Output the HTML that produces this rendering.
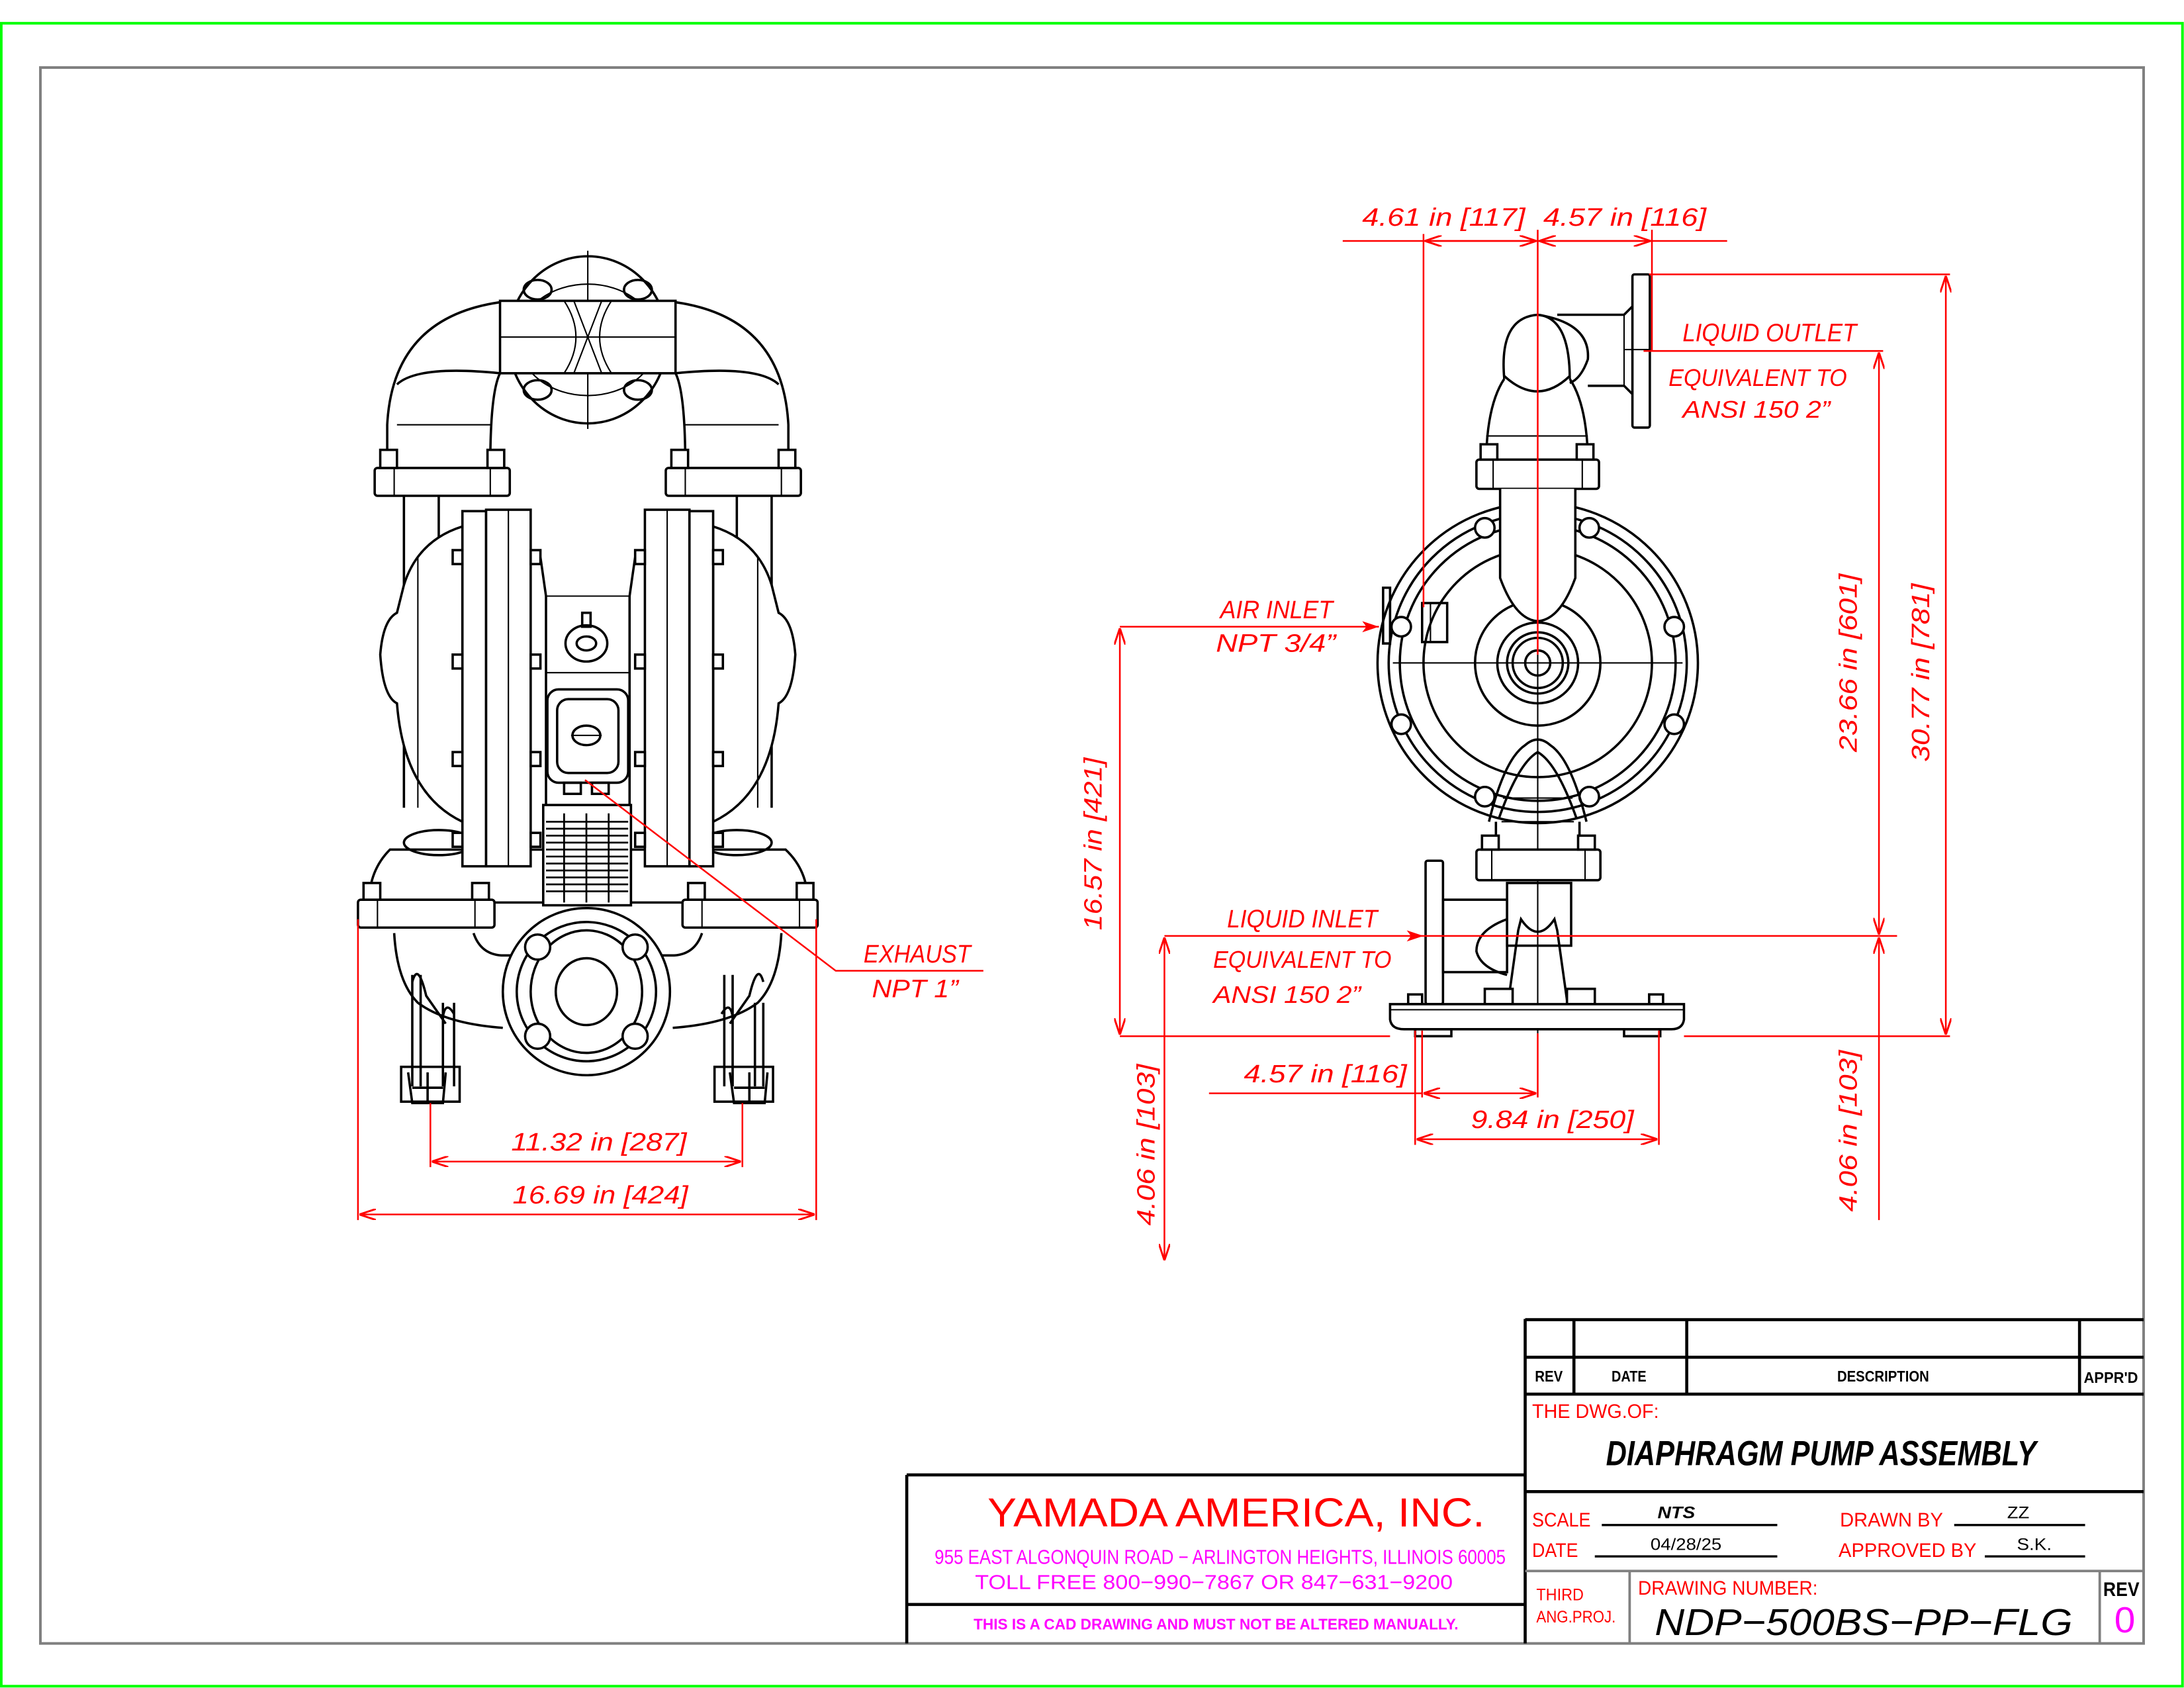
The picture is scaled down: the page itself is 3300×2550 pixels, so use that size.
<!DOCTYPE html>
<html><head><meta charset="utf-8"><style>
html,body{margin:0;padding:0;background:#fff}
svg{display:block}
text{font-family:"Liberation Sans",sans-serif}
.r{fill:#ff0000}
.m{fill:#ff00ff}
.b{stroke:#000;fill:none;stroke-width:1.7}
.bw{stroke:#000;fill:#fff;stroke-width:1.7}
.t{stroke:#000;fill:none;stroke-width:1.0}
.rd{stroke:#ff0000;fill:none;stroke-width:1.2}
.dim{font-style:italic;font-size:18px;fill:#ff0000}
</style></head><body>
<svg width="3300" height="2550" viewBox="0 0 1568 1212" preserveAspectRatio="none" xmlns="http://www.w3.org/2000/svg">
<defs>
<marker id="a" viewBox="0 0 12 8" refX="12" refY="4" markerWidth="12" markerHeight="8" markerUnits="userSpaceOnUse" orient="auto-start-reverse">
<path d="M0,0 L12,4 L0,8" fill="none" stroke="#f00" stroke-width="1.4"/>
</marker>
<marker id="af" viewBox="0 0 12 8" refX="12" refY="4" markerWidth="12" markerHeight="8" markerUnits="userSpaceOnUse" orient="auto-start-reverse">
<path d="M0,0 L12,4 L0,8 L3,4 z" fill="#f00"/>
</marker>
</defs>
<rect x="0" y="0" width="1568" height="1212" fill="#fff"/>
<rect x="0.9" y="16.7" width="1566" height="1194" fill="none" stroke="#00ff00" stroke-width="1.9"/>
<rect x="29" y="48.5" width="1510" height="1131.5" fill="none" stroke="#808080" stroke-width="1.9"/>

<!-- ===== LEFT VIEW (front) ===== -->
<g>
<ellipse cx="422" cy="244" rx="57" ry="60" class="b" stroke-width="2.4"/>
<ellipse cx="422" cy="244" rx="50" ry="40" class="t"/>
<line x1="422" y1="180" x2="422" y2="308" class="t"/>
<rect x="359" y="216" width="126" height="52" class="bw"/>
<line x1="359" y1="242" x2="485" y2="242" class="t"/>
<path d="M405,216 Q422,242 405,268 M439,216 Q422,242 439,268 M412,216 L432,268 M432,216 L412,268" class="t"/>
<g class="b"><ellipse cx="386" cy="208" rx="10" ry="7"/><ellipse cx="458" cy="208" rx="10" ry="7"/><ellipse cx="386" cy="280" rx="10" ry="7"/><ellipse cx="458" cy="280" rx="10" ry="7"/></g>
<path d="M278,334 L278,305 Q282,228 359,217" class="b"/>
<path d="M352,334 Q352,282 359,268 M285,276 Q300,262 359,268" class="b"/>
<line x1="285" y1="305" x2="352" y2="305" class="t"/>
<path d="M566,334 L566,305 Q562,228 485,217" class="b"/>
<path d="M492,334 Q492,282 485,268 M559,276 Q544,262 485,268" class="b"/>
<line x1="492" y1="305" x2="559" y2="305" class="t"/>
<rect x="269" y="336" width="97" height="20" rx="2" class="bw" stroke-width="2.4"/>
<rect x="478" y="336" width="97" height="20" rx="2" class="bw" stroke-width="2.4"/>
<g class="bw"><rect x="273" y="323" width="12" height="13"/><rect x="350" y="323" width="12" height="13"/><rect x="482" y="323" width="12" height="13"/><rect x="559" y="323" width="12" height="13"/></g>
<line x1="283" y1="336" x2="283" y2="356" class="t"/><line x1="352" y1="336" x2="352" y2="356" class="t"/>
<line x1="492" y1="336" x2="492" y2="356" class="t"/><line x1="561" y1="336" x2="561" y2="356" class="t"/>
<path d="M290,356 L290,580 M315,356 L315,400 M529,356 L529,400 M554,356 L554,580" class="b"/>
<path d="M332,378 Q300,388 290,420 L285,440 Q275,445 273,470 Q275,500 285,505 Q290,570 332,590 Z" class="bw"/>
<path d="M512,378 Q544,388 554,420 L559,440 Q569,445 571,470 Q569,500 559,505 Q554,570 512,590 Z" class="bw"/>
<line x1="300" y1="400" x2="300" y2="580" class="t"/><line x1="544" y1="400" x2="544" y2="580" class="t"/>
<path d="M280,610 Q265,625 265,648 L580,648 Q580,625 564,610 Z" class="bw"/>
<ellipse cx="315" cy="605" rx="25" ry="9" class="b"/><ellipse cx="529" cy="605" rx="25" ry="9" class="b"/>
<rect x="332" y="367" width="17" height="255" class="bw" stroke-width="2.2"/>
<rect x="349" y="366" width="32" height="256" class="bw" stroke-width="2.2"/>
<rect x="463" y="366" width="32" height="256" class="bw" stroke-width="2.2"/>
<rect x="495" y="367" width="17" height="255" class="bw" stroke-width="2.2"/>
<line x1="365" y1="366" x2="365" y2="622" class="t"/><line x1="479" y1="366" x2="479" y2="622" class="t"/>
<g class="bw"><rect x="325" y="395" width="7" height="10"/><rect x="325" y="470" width="7" height="10"/><rect x="325" y="540" width="7" height="10"/><rect x="325" y="598" width="7" height="10"/>
<rect x="512" y="395" width="7" height="10"/><rect x="512" y="470" width="7" height="10"/><rect x="512" y="540" width="7" height="10"/><rect x="512" y="598" width="7" height="10"/>
<rect x="381" y="395" width="7" height="10"/><rect x="381" y="470" width="7" height="10"/><rect x="381" y="540" width="7" height="10"/><rect x="381" y="598" width="7" height="10"/>
<rect x="456" y="395" width="7" height="10"/><rect x="456" y="470" width="7" height="10"/><rect x="456" y="540" width="7" height="10"/><rect x="456" y="598" width="7" height="10"/></g>
<path d="M388,400 L392,428 L392,630 M456,400 L452,428 L452,630" class="b"/>
<line x1="392" y1="428" x2="452" y2="428" class="t"/><line x1="392" y1="483" x2="452" y2="483" class="t"/>
<ellipse cx="421" cy="462" rx="15" ry="13" class="b" stroke-width="2.2"/><ellipse cx="421" cy="462" rx="7" ry="5" class="b"/>
<rect x="418" y="440" width="6" height="10" class="b"/>
<rect x="393" y="495" width="58" height="67" rx="8" class="b" stroke-width="2.2"/>
<rect x="400" y="502" width="44" height="53" rx="8" class="b"/>
<ellipse cx="421" cy="528" rx="10" ry="7" class="b" stroke-width="1.8"/>
<line x1="410" y1="528" x2="432" y2="528" class="t"/>
<rect x="405" y="562" width="12" height="8" class="b"/><rect x="425" y="562" width="12" height="8" class="b"/>
<rect x="390" y="578" width="63" height="72" class="bw" stroke-width="2.2"/>
<g stroke="#000" stroke-width="1.3">
<line x1="392" y1="590" x2="451" y2="590"/><line x1="392" y1="595" x2="451" y2="595"/><line x1="392" y1="600" x2="451" y2="600"/><line x1="392" y1="605" x2="451" y2="605"/><line x1="392" y1="610" x2="451" y2="610"/><line x1="392" y1="615" x2="451" y2="615"/><line x1="392" y1="620" x2="451" y2="620"/><line x1="392" y1="625" x2="451" y2="625"/><line x1="392" y1="630" x2="451" y2="630"/><line x1="392" y1="635" x2="451" y2="635"/><line x1="392" y1="640" x2="451" y2="640"/>
<line x1="405" y1="584" x2="405" y2="648"/><line x1="421" y1="584" x2="421" y2="648"/><line x1="437" y1="584" x2="437" y2="648"/></g>
<rect x="257" y="646" width="98" height="20" rx="2" class="bw" stroke-width="2.4"/>
<rect x="490" y="646" width="97" height="20" rx="2" class="bw" stroke-width="2.4"/>
<g class="bw"><rect x="261" y="634" width="12" height="12"/><rect x="339" y="634" width="12" height="12"/><rect x="494" y="634" width="12" height="12"/><rect x="572" y="634" width="12" height="12"/></g>
<line x1="271" y1="646" x2="271" y2="666" class="t"/><line x1="341" y1="646" x2="341" y2="666" class="t"/>
<line x1="504" y1="646" x2="504" y2="666" class="t"/><line x1="574" y1="646" x2="574" y2="666" class="t"/>
<path d="M283,670 Q285,705 300,720 Q320,735 361,738 M561,670 Q559,705 544,720 Q524,735 483,738" class="b"/>
<path d="M340,670 Q345,685 360,686 L484,686 Q499,685 504,670" class="b"/>
<ellipse cx="421" cy="712" rx="60" ry="60" class="bw" stroke-width="3"/>
<ellipse cx="421" cy="712" rx="50" ry="50" class="b" stroke-width="3.5"/>
<ellipse cx="421" cy="712" rx="40" ry="44" class="b" stroke-width="1.8"/>
<ellipse cx="421" cy="712" rx="22" ry="24" class="b" stroke-width="2"/>
<g class="bw" stroke-width="2"><ellipse cx="386" cy="680" rx="9" ry="9"/><ellipse cx="456" cy="680" rx="9" ry="9"/><ellipse cx="386" cy="744" rx="9" ry="9"/><ellipse cx="456" cy="744" rx="9" ry="9"/></g>
<g class="b">
<path d="M296,700 L296,780 M302,700 L302,780 M318,720 L318,780 M326,720 L326,780"/>
<path d="M296,705 Q300,690 306,715 L320,735 M318,730 Q320,718 326,728"/>
<rect x="288" y="766" width="42" height="25"/>
<path d="M293,770 L296,792 L318,792 L320,770 M307,770 L307,792 M296,781 L318,781"/>
<path d="M520,700 L520,780 M526,700 L526,780 M542,720 L542,780 M548,720 L548,780"/>
<path d="M548,705 Q544,690 538,715 L524,735 M526,730 Q524,718 518,728"/>
<rect x="513" y="766" width="42" height="25"/>
<path d="M524,770 L527,792 L549,792 L551,770 M538,770 L538,792 M527,781 L549,781"/>
</g>
</g>

<g class="rd">
<line x1="257" y1="660" x2="257" y2="876"/>
<line x1="586" y1="660" x2="586" y2="876"/>
<line x1="309" y1="792" x2="309" y2="838"/>
<line x1="533" y1="792" x2="533" y2="838"/>
<line x1="310" y1="834" x2="532" y2="834" marker-start="url(#a)" marker-end="url(#a)"/>
<line x1="258" y1="872" x2="585" y2="872" marker-start="url(#a)" marker-end="url(#a)"/>
<path d="M420,560 L600,697 L706,697"/>
</g>
<text class="dim" x="367" y="826" textLength="126" lengthAdjust="spacingAndGlyphs">11.32 in [287]</text>
<text class="dim" x="368" y="864" textLength="126" lengthAdjust="spacingAndGlyphs">16.69 in [424]</text>
<text class="dim" x="620" y="691" textLength="77" lengthAdjust="spacingAndGlyphs">EXHAUST</text>
<text class="dim" x="626" y="716" textLength="62" lengthAdjust="spacingAndGlyphs">NPT 1”</text>

<!-- ===== RIGHT VIEW ===== -->
<g>
<rect x="1172" y="197" width="12.5" height="110" rx="1.5" class="bw" stroke-width="2.4"/>
<path d="M1118,226 L1166,226 L1172,220 M1140,277 L1166,277 L1172,283" class="b"/>
<line x1="1166" y1="226" x2="1166" y2="277" class="t"/><line x1="1166" y1="251" x2="1184" y2="251" class="t"/>
<path d="M1080,272 Q1076,228 1104,226 Q1127,228 1127,272" class="b" stroke-width="2.2"/>
<path d="M1104,226 Q1142,232 1140,258 Q1135,272 1127,275" class="b"/>
<path d="M1080,270 Q1104,292 1127,270" class="b" stroke-width="2.2"/>
<path d="M1080,272 Q1068,290 1067,328 M1127,272 Q1139,290 1140,328" class="b"/>
<line x1="1067" y1="313" x2="1140" y2="313" class="t"/>
<rect x="1060" y="330" width="88" height="21" rx="2" class="bw" stroke-width="2.4"/>
<g class="bw"><rect x="1063" y="319" width="12" height="11"/><rect x="1132" y="319" width="12" height="11"/></g>
<line x1="1072" y1="330" x2="1072" y2="351" class="t"/><line x1="1136" y1="330" x2="1136" y2="351" class="t"/>
<circle cx="1104" cy="476" r="115" class="bw" stroke-width="3.5"/>
<circle cx="1104" cy="476" r="107" class="b" stroke-width="4"/>
<circle cx="1104" cy="476" r="99" class="b" stroke-width="2"/>
<circle cx="1104" cy="476" r="82" class="b" stroke-width="1.5"/>
<circle cx="1104" cy="476" r="45" class="b" stroke-width="1.5"/>
<circle cx="1104" cy="476" r="29" class="b" stroke-width="1.5"/>
<circle cx="1104" cy="476" r="22" class="b" stroke-width="1.5"/>
<circle cx="1104" cy="476" r="18" class="b" stroke-width="1.5"/>
<circle cx="1104" cy="476" r="9" class="b" stroke-width="1.5"/>
<line x1="1000" y1="476" x2="1208" y2="476" class="t"/>
<line x1="1104" y1="470" x2="1104" y2="742" class="t"/>
<g class="bw" stroke-width="2.2">
<circle cx="1066" cy="379" r="7"/><circle cx="1141" cy="379" r="7"/>
<circle cx="1006" cy="450" r="7"/><circle cx="1202" cy="450" r="7"/>
<circle cx="1006" cy="520" r="7"/><circle cx="1202" cy="520" r="7"/>
<circle cx="1066" cy="572" r="7"/><circle cx="1141" cy="572" r="7"/></g>
<path d="M1077,351 L1077,415 Q1088,445 1104,446 Q1120,445 1131,415 L1131,351" class="bw" stroke-width="1.9"/>
<path d="M1069,590 Q1080,545 1095,535 Q1104,527 1113,535 Q1128,545 1139,590" class="b" stroke-width="2.6"/>
<path d="M1076,588 Q1090,548 1104,540 Q1118,548 1132,588" class="b"/>
<line x1="1079" y1="573" x2="1129" y2="573" class="t"/><line x1="1078" y1="590" x2="1130" y2="590" class="t"/>
<path d="M1074,590 L1074,605 M1134,590 L1134,605" class="b"/>
<rect x="1021" y="433" width="18" height="28" class="b"/>
<line x1="1027" y1="433" x2="1027" y2="461" class="t"/>
<path d="M993,422 L998,422 L998,462 L993,462 Z" class="b"/>
<rect x="1060" y="610" width="89" height="22" rx="2" class="bw" stroke-width="2.4"/>
<g class="bw"><rect x="1064" y="600" width="12" height="10"/><rect x="1133" y="600" width="12" height="10"/></g>
<line x1="1071" y1="610" x2="1071" y2="632" class="t"/><line x1="1138" y1="610" x2="1138" y2="632" class="t"/>
<rect x="1023.5" y="618" width="12.5" height="103" rx="1.5" class="bw" stroke-width="2.4"/>
<rect x="1036" y="646" width="46" height="52" class="b"/>
<path d="M1082,660 Q1060,668 1060,683 Q1063,695 1082,700" class="b"/>
<rect x="1082" y="634" width="46" height="45" class="b"/>
<path d="M1083,718 L1090,668 L1092,660 Q1104,678 1116,660 L1118,668 L1125,718" class="b" stroke-width="2.8"/>
<g class="bw"><rect x="1066" y="710" width="20" height="11"/><rect x="1125" y="710" width="20" height="11"/><rect x="1011" y="714" width="10" height="7"/><rect x="1184" y="714" width="10" height="7"/></g>
<path d="M998,721 L1209,721 L1209,732 Q1208,739 1200,739 L1008,739 Q999,739 998,732 Z" class="bw" stroke-width="2.2"/>
<line x1="998" y1="725" x2="1209" y2="725" class="t"/>
<rect x="1016" y="739" width="26" height="5" class="b"/><rect x="1166" y="739" width="26" height="5" class="b"/>
</g>

<g class="rd">
<line x1="964" y1="173" x2="1240" y2="173"/>
<line x1="1023" y1="173" x2="1103" y2="173" marker-start="url(#a)" marker-end="url(#a)"/>
<line x1="1105" y1="173" x2="1185" y2="173" marker-start="url(#a)" marker-end="url(#a)"/>
<line x1="1022" y1="168" x2="1022" y2="436"/>
<line x1="1104" y1="165" x2="1104" y2="470"/>
<line x1="1186" y1="165" x2="1186" y2="252"/>
<line x1="1184" y1="197" x2="1400" y2="197"/>
<line x1="1397" y1="198" x2="1397" y2="743" marker-start="url(#a)" marker-end="url(#a)"/>
<line x1="1180" y1="252" x2="1352" y2="252"/>
<line x1="1349" y1="253" x2="1349" y2="671" marker-start="url(#a)" marker-end="url(#a)"/>
<line x1="804" y1="450" x2="990" y2="450" marker-end="url(#af)"/>
<line x1="804" y1="451" x2="804" y2="743" marker-start="url(#a)" marker-end="url(#a)"/>
<line x1="836" y1="672" x2="1022" y2="672" marker-end="url(#af)"/>
<line x1="1022" y1="672" x2="1362" y2="672"/>
<line x1="836" y1="673" x2="836" y2="905" marker-start="url(#a)" marker-end="url(#a)"/>
<line x1="1349" y1="673" x2="1349" y2="744" marker-start="url(#a)"/>
<line x1="1349" y1="744" x2="1349" y2="876"/>
<line x1="804" y1="744" x2="998" y2="744"/>
<line x1="1209" y1="744" x2="1400" y2="744"/>
<line x1="1016" y1="740" x2="1016" y2="822"/>
<line x1="1021" y1="740" x2="1021" y2="788"/>
<line x1="1104" y1="742" x2="1104" y2="788"/>
<line x1="1191" y1="740" x2="1191" y2="822"/>
<line x1="868" y1="785" x2="1021" y2="785"/>
<line x1="1022" y1="785" x2="1103" y2="785" marker-start="url(#a)" marker-end="url(#a)"/>
<line x1="1017" y1="818" x2="1190" y2="818" marker-start="url(#a)" marker-end="url(#a)"/>
</g>
<text class="dim" x="978" y="162" textLength="117" lengthAdjust="spacingAndGlyphs">4.61 in [117]</text>
<text class="dim" x="1108" y="162" textLength="117" lengthAdjust="spacingAndGlyphs">4.57 in [116]</text>
<text class="dim" x="893" y="777" textLength="117" lengthAdjust="spacingAndGlyphs">4.57 in [116]</text>
<text class="dim" x="1056" y="810" textLength="117" lengthAdjust="spacingAndGlyphs">9.84 in [250]</text>
<text class="dim" x="1208" y="245" textLength="125" lengthAdjust="spacingAndGlyphs">LIQUID OUTLET</text>
<text class="dim" x="1198" y="277" textLength="128" lengthAdjust="spacingAndGlyphs" style="font-size:17px">EQUIVALENT TO</text>
<text class="dim" x="1208" y="300" textLength="106" lengthAdjust="spacingAndGlyphs" style="font-size:17px">ANSI 150 2”</text>
<text class="dim" x="876" y="444" textLength="81" lengthAdjust="spacingAndGlyphs">AIR INLET</text>
<text class="dim" x="873" y="468" textLength="86" lengthAdjust="spacingAndGlyphs">NPT 3/4”</text>
<text class="dim" x="881" y="666" textLength="108" lengthAdjust="spacingAndGlyphs">LIQUID INLET</text>
<text class="dim" x="871" y="695" textLength="128" lengthAdjust="spacingAndGlyphs" style="font-size:17px">EQUIVALENT TO</text>
<text class="dim" x="871" y="720" textLength="106" lengthAdjust="spacingAndGlyphs" style="font-size:17px">ANSI 150 2”</text>
<text class="dim" transform="translate(791,606) rotate(-90)" text-anchor="middle" textLength="124" lengthAdjust="spacingAndGlyphs">16.57 in [421]</text>
<text class="dim" transform="translate(829,822) rotate(-90)" text-anchor="middle" textLength="116" lengthAdjust="spacingAndGlyphs">4.06 in [103]</text>
<text class="dim" transform="translate(1333,812) rotate(-90)" text-anchor="middle" textLength="116" lengthAdjust="spacingAndGlyphs">4.06 in [103]</text>
<text class="dim" transform="translate(1333,476) rotate(-90)" text-anchor="middle" textLength="128" lengthAdjust="spacingAndGlyphs">23.66 in [601]</text>
<text class="dim" transform="translate(1385,483) rotate(-90)" text-anchor="middle" textLength="128" lengthAdjust="spacingAndGlyphs">30.77 in [781]</text>

<!-- ===== TITLE BLOCK ===== -->
<g stroke="#000" stroke-width="2.2" fill="none">
<line x1="1095" y1="947.5" x2="1539" y2="947.5"/>
<line x1="1095" y1="974.5" x2="1539" y2="974.5"/>
<line x1="1095" y1="1001" x2="1539" y2="1001"/>
<line x1="1095" y1="1071" x2="1539" y2="1071"/>
<line x1="1095" y1="947" x2="1095" y2="1180"/>
<line x1="1130" y1="947" x2="1130" y2="1001"/>
<line x1="1211" y1="947" x2="1211" y2="1001"/>
<line x1="1493" y1="947" x2="1493" y2="1001"/>
<line x1="651" y1="1059" x2="1095" y2="1059"/>
<line x1="651" y1="1059" x2="651" y2="1180"/>
<line x1="651" y1="1152" x2="1095" y2="1152"/>
</g>
<g stroke="#808080" stroke-width="1.8">
<line x1="1095" y1="1128" x2="1539" y2="1128"/>
<line x1="1170" y1="1128" x2="1170" y2="1180"/>
<line x1="1507.5" y1="1128" x2="1507.5" y2="1180"/>
</g>
<g stroke="#000" stroke-width="1.6">
<line x1="1150" y1="1095" x2="1276" y2="1095"/>
<line x1="1145" y1="1117.5" x2="1276" y2="1117.5"/>
<line x1="1403" y1="1095" x2="1497" y2="1095"/>
<line x1="1425" y1="1117.5" x2="1497" y2="1117.5"/>
</g>
<g font-weight="bold" font-size="11" fill="#000">
<text x="1102" y="992" textLength="20" lengthAdjust="spacingAndGlyphs">REV</text>
<text x="1157" y="992" textLength="25" lengthAdjust="spacingAndGlyphs">DATE</text>
<text x="1319" y="992" textLength="66" lengthAdjust="spacingAndGlyphs">DESCRIPTION</text>
<text x="1496" y="993" textLength="39" lengthAdjust="spacingAndGlyphs">APPR'D</text>
</g>
<text x="1100" y="1018" class="r" font-size="14" textLength="91" lengthAdjust="spacingAndGlyphs">THE  DWG.OF:</text>
<text x="1153" y="1052" font-size="25" font-weight="bold" font-style="italic" textLength="309" lengthAdjust="spacingAndGlyphs">DIAPHRAGM PUMP ASSEMBLY</text>
<g class="r" font-size="14">
<text x="1100" y="1096" textLength="42" lengthAdjust="spacingAndGlyphs">SCALE</text>
<text x="1100" y="1118" textLength="33" lengthAdjust="spacingAndGlyphs">DATE</text>
<text x="1321" y="1096" textLength="74" lengthAdjust="spacingAndGlyphs">DRAWN  BY</text>
<text x="1320" y="1118" textLength="99" lengthAdjust="spacingAndGlyphs">APPROVED  BY</text>
<text x="1103" y="1149" font-size="12" textLength="34" lengthAdjust="spacingAndGlyphs">THIRD</text>
<text x="1103" y="1165" font-size="12" textLength="57" lengthAdjust="spacingAndGlyphs">ANG.PROJ.</text>
<text x="1176" y="1145" textLength="129" lengthAdjust="spacingAndGlyphs">DRAWING  NUMBER:</text>
</g>
<text x="1190" y="1090" font-size="12" font-weight="bold" font-style="italic" textLength="27" lengthAdjust="spacingAndGlyphs">NTS</text>
<text x="1185" y="1113" font-size="12" textLength="51" lengthAdjust="spacingAndGlyphs">04/28/25</text>
<text x="1441" y="1090" font-size="12" textLength="16" lengthAdjust="spacingAndGlyphs">ZZ</text>
<text x="1448" y="1113" font-size="12" textLength="25" lengthAdjust="spacingAndGlyphs">S.K.</text>
<text x="1188" y="1174" font-size="27" font-style="italic" textLength="300" lengthAdjust="spacingAndGlyphs">NDP−500BS−PP−FLG</text>
<text x="1510" y="1146" font-size="14" font-weight="bold" textLength="26" lengthAdjust="spacingAndGlyphs">REV</text>
<text x="1518" y="1172" class="m" font-size="26" textLength="15" lengthAdjust="spacingAndGlyphs">0</text>
<text x="709" y="1096" class="r" font-size="29" textLength="357" lengthAdjust="spacingAndGlyphs">YAMADA  AMERICA,  INC.</text>
<text x="671" y="1123" class="m" font-size="14.5" textLength="410" lengthAdjust="spacingAndGlyphs">955 EAST ALGONQUIN ROAD − ARLINGTON HEIGHTS, ILLINOIS 60005</text>
<text x="700" y="1141" class="m" font-size="14.5" textLength="343" lengthAdjust="spacingAndGlyphs">TOLL FREE 800−990−7867 OR 847−631−9200</text>
<text x="699" y="1170" class="m" font-size="11" font-weight="bold" textLength="348" lengthAdjust="spacingAndGlyphs">THIS IS A CAD DRAWING AND MUST NOT BE ALTERED MANUALLY.</text>
</svg>
</body></html>
